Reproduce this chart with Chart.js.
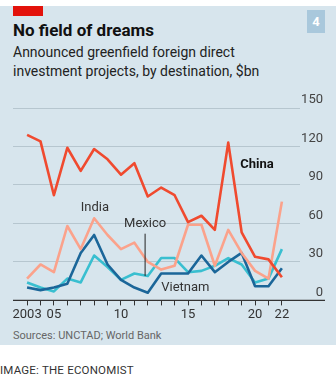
<!DOCTYPE html>
<html>
<head>
<meta charset="utf-8">
<script src="https://cdn.jsdelivr.net/npm/chart.js@4"></script>
<style>
  body { margin: 0; width: 336px; height: 379px; background: #fff; font-family: Roboto, sans-serif; position: relative; overflow: hidden; }
  .panel { position: absolute; left: 0; top: 6px; width: 336px; height: 339px; background: #d7e5ed; }
  .redbar { position: absolute; left: 13px; top: 6px; width: 30px; height: 10px; background: #e3120b; }
  .num { position: absolute; left: 307px; top: 10px; width: 18px; height: 23px; background: #a9c8dc; color: #fff; font-weight: bold; font-size: 13px; text-align: center; line-height: 23px; }
  h1 { position: absolute; left: 13px; top: 20px; margin: 0; font-size: 17px; font-weight: bold; color: #111; line-height: 20px; }
  .sub { position: absolute; left: 13px; top: 43px; margin: 0; font-size: 14px; color: #222; line-height: 19px; }
  .src { position: absolute; left: 13px; top: 329px; font-size: 11px; color: #666; }
  .credit { position: absolute; left: 0; top: 363px; font-size: 11.5px; color: #333; letter-spacing: 0.2px; }
  #wrap { position: absolute; left: 0; top: 85px; width: 336px; height: 240px; }
</style>
</head>
<body>
<div class="panel"></div>
<div class="redbar"></div>
<div class="num">4</div>
<h1>No field of dreams</h1>
<div class="sub">Announced greenfield foreign direct<br>investment projects, by destination, $bn</div>
<div id="wrap"><canvas id="chart" width="336" height="240"></canvas></div>
<div class="src">Sources: UNCTAD; World Bank</div>
<div class="credit">IMAGE: THE ECONOMIST</div>

<script>
// valores
const years = [2003, 2004, 2005, 2006, 2007, 2008, 2009, 2010, 2011, 2012, 2013, 2014, 2015, 2016, 2017, 2018, 2019, 2020, 2021, 2022];
const china   = [129, 124, 82, 119, 101, 118, 110, 98, 107, 81, 88, 82, 61, 66, 55, 123, 53, 34, 32, 18];
const india   = [17, 28, 22, 58, 40, 64, 51, 40, 45, 30, 24, 27, 59, 59, 27, 55, 37, 23, 17, 77];
const vietnam = [10, 8, 10, 13, 37, 51, 28, 16, 10, 6, 21, 21, 21, 35, 22, 30, 37, 11, 11, 25];
const mexico  = [14, 10, 7, 17, 14, 35, 26, 16, 21, 19, 33, 33, 22, 23, 27, 33, 28, 14, 17, 40];
const yTicks = [0, 30, 60, 90, 120, 150];
const xLabels = { 2003: '2003', 2005: '05', 2010: '10', 2015: '15', 2020: '20', 2022: '22' };

const FONT = 'Roboto, sans-serif';

const extras = {
    id: 'extras',
    afterDatasetsDraw(chart) {
        const { ctx, chartArea, scales: { x, y } } = chart;
        ctx.save();
        // linha de base
        ctx.strokeStyle = '#333';
        ctx.lineWidth = 1.2;
        ctx.beginPath();
        ctx.moveTo(chartArea.left, y.getPixelForValue(0));
        ctx.lineTo(chart.width - 11, y.getPixelForValue(0));
        ctx.stroke();

        // rótulos
        ctx.textBaseline = 'middle';
        ctx.fillStyle = '#111';
        ctx.font = `bold 13px ${FONT}`;
        ctx.textAlign = 'left';
        ctx.fillText('China', x.getPixelForValue(2018.9), y.getPixelForValue(106));
        ctx.font = `13px ${FONT}`;
        ctx.fillStyle = '#333';
        ctx.textAlign = 'center';
        ctx.fillText('India', x.getPixelForValue(2008.05), y.getPixelForValue(72.5));
        ctx.fillText('Mexico', x.getPixelForValue(2011.8), y.getPixelForValue(59.5));
        ctx.textAlign = 'left';
        ctx.fillText('Vietnam', x.getPixelForValue(2013), y.getPixelForValue(9.5));
        // seta do México
        ctx.strokeStyle = '#222';
        ctx.lineWidth = 1;
        ctx.beginPath();
        ctx.moveTo(x.getPixelForValue(2011.8), y.getPixelForValue(52));
        ctx.lineTo(x.getPixelForValue(2011.8), y.getPixelForValue(19));
        ctx.stroke();
        ctx.restore();
    }
};

function series(label, data, color) {
    return {
        label,
        data: data.map((v, i) => ({ x: years[i], y: v })),
        borderColor: color,
        borderWidth: 2.6,
        pointRadius: 0,
        tension: 0,
        borderJoinStyle: 'round',
        fill: false
    };
}

new Chart(document.getElementById('chart'), {
    type: 'line',
    data: {
        datasets: [
            series('China', china, '#f04a2f'),
            series('India', india, '#fba28b'),
            series('Vietnam', vietnam, '#1b6699'),
            series('Mexico', mexico, '#39bfd0')
        ]
    },
    options: {
        responsive: false,
        animation: false,
        layout: { padding: { left: 13, right: 13, top: 23, bottom: 0 } },
        plugins: { legend: { display: false }, tooltip: { enabled: false } },
        scales: {
            x: {
                type: 'linear',
                min: 2001.95,
                max: 2023.35,
                afterBuildTicks: s => { s.ticks = years.map(v => ({ value: v })); },
                ticks: {
                    autoSkip: false,
                    maxRotation: 0,
                    padding: 2,
                    color: '#333',
                    font: { family: FONT, size: 13 },
                    callback: v => xLabels[v] || ''
                },
                grid: { drawOnChartArea: false, drawTicks: true, tickLength: 5, color: '#333', lineWidth: 1 },
                border: { display: false }
            },
            y: {
                position: 'right',
                min: 0,
                max: 150,
                afterBuildTicks: s => { s.ticks = yTicks.map(v => ({ value: v })); },
                afterFit: s => { s.width = 23; },
                ticks: {
                    crossAlign: 'far',
                    labelOffset: -8,
                    padding: 0,
                    color: '#444',
                    font: { family: FONT, size: 13 }
                },
                grid: { drawTicks: false, color: '#b6c6cf', lineWidth: 1 },
                border: { display: false }
            }
        }
    },
    plugins: [extras]
});
</script>
</body>
</html>
